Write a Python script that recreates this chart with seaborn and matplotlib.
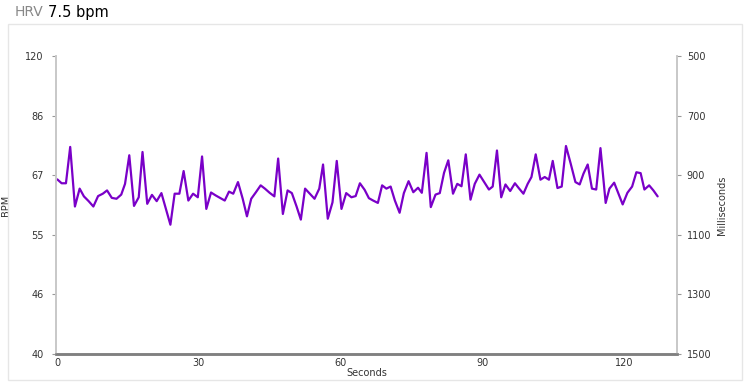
import matplotlib
matplotlib.use("Agg")
import matplotlib.pyplot as plt
import seaborn as sns
import pandas as pd
from matplotlib.patches import Rectangle

seconds = [0.07, 0.99, 1.9, 2.8, 3.8, 4.8, 5.7, 6.7, 7.7, 8.7, 9.7, 10.6, 11.6, 12.6, 13.6,
           14.4, 15.3, 16.3, 17.3, 18.1, 19.1, 20.1, 21.1, 22.1, 23.0, 24.0, 24.9, 25.9, 26.8,
           27.8, 28.8, 29.8, 30.7, 31.6, 32.6, 33.6, 34.6, 35.5, 36.4, 37.3, 38.3, 39.3, 40.2,
           41.1, 42.1, 43.1, 44.0, 45.0, 46.0, 46.8, 47.8, 48.8, 49.7, 50.7, 51.6, 52.5, 53.5,
           54.5, 55.5, 56.3, 57.3, 58.3, 59.2, 60.2, 61.2, 62.3, 63.2, 64.1, 65.1, 66.0, 66.9,
           67.9, 68.8, 69.7, 70.6, 71.5, 72.5, 73.4, 74.4, 75.4, 76.4, 77.2, 78.2, 79.1, 80.1,
           81.0, 81.9, 82.8, 83.8, 84.7, 85.6, 86.5, 87.5, 88.4, 89.4, 90.4, 91.4, 92.2, 93.1,
           94.0, 94.9, 95.9, 96.9, 97.7, 98.7, 99.6, 100.4, 101.3, 102.3, 103.2, 104.1, 104.9,
           105.9, 106.8, 107.7, 108.7, 109.7, 110.6, 111.4, 112.3, 113.2, 114.1, 115.0, 116.1,
           116.9, 117.9, 118.8, 119.7, 120.7, 121.7, 122.6, 123.5, 124.3, 125.3, 126.2, 127.1]
rr_ms = [914, 927, 927, 805, 1005, 945, 971, 987, 1005, 970, 962, 951, 976, 979, 965,
         929, 833, 1003, 974, 822, 996, 966, 987, 960, 1010, 1066, 962, 962, 886,
         985, 962, 974, 837, 1013, 958, 968, 977, 985, 955, 962, 923, 979, 1038,
         979, 957, 934, 945, 959, 971, 844, 1030, 951, 960, 1005, 1049, 945, 962,
         979, 945, 864, 1046, 991, 852, 1013, 960, 974, 970, 927, 949, 977, 985,
         993, 934, 945, 938, 985, 1026, 960, 920, 957, 942, 959, 825, 1007, 965,
         960, 892, 850, 962, 929, 937, 830, 982, 929, 898, 923, 948, 938, 817,
         974, 931, 953, 927, 943, 962, 929, 906, 830, 915, 906, 915, 852,
         943, 938, 802, 861, 923, 931, 895, 864, 945, 948, 809, 993,
         945, 925, 962, 998, 959, 938, 890, 893, 948, 934, 951, 971]

ms_ticks = [500, 700, 900, 1100, 1300, 1500]
bpm_labels = ["120", "86", "67", "55", "46", "40"]
x_ticks = [0, 30, 60, 90, 120]

df = pd.DataFrame({"Seconds": seconds, "ms": rr_ms})

sns.set_theme(style="white")
plt.rcParams["font.family"] = ["DejaVu Sans"]

fig = plt.figure(figsize=(7.5, 3.82), dpi=100)
ax = fig.add_axes([0.0747, 0.0733, 0.828, 0.780])

sns.lineplot(data=df, x="Seconds", y="ms", ax=ax, color="#7a00c8", linewidth=1.6,
             sort=False, estimator=None)

ax.set_xlim(-0.2, 131.2)
ax.set_ylim(1500, 500)
ax.set_xticks(x_ticks)
ax.set_xticklabels([str(v) for v in x_ticks], fontsize=7, color="#333333")
ax.set_yticks(ms_ticks)
ax.set_yticklabels(bpm_labels, fontsize=7, color="#333333")
ax.set_xlabel("Seconds", fontsize=7, color="#333333", labelpad=0)
ax.set_ylabel("BPM", fontsize=7, color="#333333")
ax.yaxis.set_label_coords(-0.072, 0.5)
ax.tick_params(axis="x", length=0, pad=3)
ax.tick_params(axis="y", length=3, width=0.8, color="#999999", pad=6, direction="out", left=True)

ax2 = ax.twinx()
ax2.set_ylim(1500, 500)
ax2.set_yticks(ms_ticks)
ax2.set_yticklabels([str(v) for v in ms_ticks], fontsize=7, color="#333333")
ax2.set_ylabel("Milliseconds", fontsize=7, color="#333333")
ax2.yaxis.set_label_coords(1.065, 0.5)
ax2.tick_params(axis="y", length=3, width=0.8, color="#999999", pad=4, direction="out", right=True)

for a in (ax, ax2):
    a.spines["top"].set_visible(False)
    a.spines["left"].set_color("#c8c8c8")
    a.spines["right"].set_color("#c8c8c8")
    a.spines["left"].set_linewidth(1.2)
    a.spines["right"].set_linewidth(1.2)
    a.spines["bottom"].set_color("#808080")
    a.spines["bottom"].set_linewidth(1.8)
    a.grid(False)

fig.patches.append(Rectangle((0.011, 0.005), 0.978, 0.931, transform=fig.transFigure,
                             fill=False, edgecolor="#e6e6e6", linewidth=1.0))

fig.text(0.020, 0.968, "HRV", fontsize=10, color="#888888", va="center", ha="left")
fig.text(0.064, 0.968, "7.5 bpm", fontsize=10.5, color="#000000", va="center", ha="left")

fig.savefig("out.png", dpi=100)
